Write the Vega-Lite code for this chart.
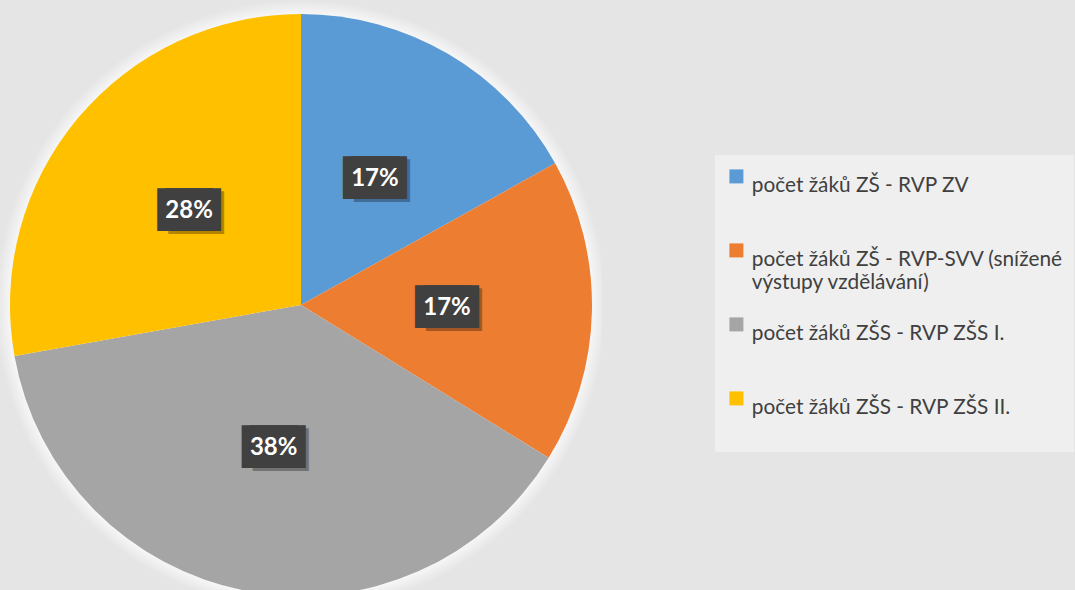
{
  "$schema": "https://vega.github.io/schema/vega-lite/v6.json",
  "width": 602,
  "height": 610,
  "padding": {"left": 0, "top": 0, "right": 2, "bottom": -20},
  "background": "#e5e5e5",
  "view": {
    "stroke": null,
    "fill": {
      "gradient": "radial",
      "x1": 0.5, "y1": 0.5, "r1": 0,
      "x2": 0.5, "y2": 0.5, "r2": 0.5,
      "stops": [
        {"offset": 0, "color": "#ffffff"},
        {"offset": 0.93, "color": "#ffffff"},
        {"offset": 1, "color": "#e5e5e5"}
      ]
    }
  },
  "data": {
    "values": [
      {"k": "počet žáků ZŠ - RVP ZV", "v": 0.169, "i": 1},
      {"k": "počet žáků ZŠ - RVP-SVV (snížené výstupy vzdělávání)", "v": 0.169, "i": 2},
      {"k": "počet žáků ZŠS - RVP ZŠS I.", "v": 0.384, "i": 3},
      {"k": "počet žáků ZŠS - RVP ZŠS II.", "v": 0.278, "i": 4}
    ]
  },
  "encoding": {
    "theta": {"field": "v", "type": "quantitative", "stack": true},
    "order": {"field": "i", "type": "ordinal"}
  },
  "layer": [
    {
      "mark": {"type": "arc", "outerRadius": 291},
      "encoding": {
        "color": {
          "field": "k",
          "type": "nominal",
          "scale": {
            "domain": [
              "počet žáků ZŠ - RVP ZV",
              "počet žáků ZŠ - RVP-SVV (snížené výstupy vzdělávání)",
              "počet žáků ZŠS - RVP ZŠS I.",
              "počet žáků ZŠS - RVP ZŠS II."
            ],
            "range": ["#5B9BD5", "#ED7D31", "#A5A5A5", "#FFC000"]
          },
          "legend": {
            "orient": "none",
            "legendX": 715,
            "legendY": 155,
            "title": null,
            "fillColor": "#efefef",
            "padding": 11,
            "symbolType": "square",
            "symbolSize": 196,
            "symbolStrokeWidth": 0,
            "labelFont": "Lato",
            "labelFontSize": 20.8,
            "labelColor": "#404040",
            "labelOffset": 5,
            "labelLimit": 330,
            "labelBaseline": "top",
            "rowPadding": 21,
            "labelExpr": "datum.label == 'počet žáků ZŠ - RVP-SVV (snížené výstupy vzdělávání)' ? ['počet žáků ZŠ - RVP-SVV (snížené', 'výstupy vzdělávání)'] : [datum.label, '']"
          }
        }
      }
    },
    {
      "mark": {"type": "text", "radius": 146, "text": "██", "font": "DejaVu Sans", "fontSize": 36, "color": "#000000", "opacity": 0.3, "dx": 7, "dy": 3}
    },
    {
      "mark": {"type": "text", "radius": 146, "text": "██", "font": "DejaVu Sans", "fontSize": 36, "color": "#404040", "dx": -4}
    },
    {
      "mark": {"type": "text", "radius": 146, "text": "██", "font": "DejaVu Sans", "fontSize": 36, "color": "#404040", "dx": 4}
    },
    {
      "mark": {"type": "text", "radius": 146, "font": "Lato", "fontWeight": "bold", "fontSize": 24, "color": "#ffffff"},
      "encoding": {
        "text": {"field": "v", "type": "quantitative", "format": ".0%"}
      }
    }
  ]
}
